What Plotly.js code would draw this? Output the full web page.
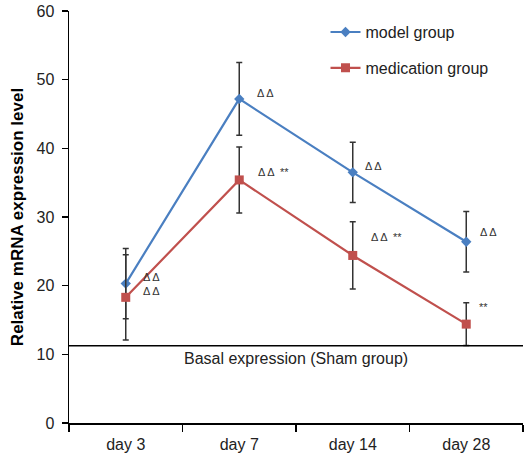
<!DOCTYPE html>
<html><head><meta charset="utf-8">
<script src="https://cdn.plot.ly/plotly-3.0.1.min.js"></script>
<style>body{margin:0;background:#fff}#c{width:526px;height:456px}</style>
</head><body><div id="c"></div>
<script>
const days = ['day 3','day 7','day 14','day 28'];
const modelVals = [20.3, 47.2, 36.5, 26.4];
const modelErr = [5.1, 5.3, 4.4, 4.4];
const medVals = [18.3, 35.4, 24.4, 14.4];
const medErr = [6.2, 4.8, 4.9, 3.1];
const basalLevel = 11.25;
const basalLabel = 'Basal expression (Sham group)';
const modelMarks = ['Δ Δ','Δ Δ','Δ Δ','Δ Δ'];
const medMarks = ['Δ Δ','Δ Δ  **','Δ Δ  **','**'];

const blue = '#4a7fc1', red = '#c0504d', errc = '#333333';
const traces = [
  {x: days, y: modelVals, name: 'model group', type: 'scatter', mode: 'lines+markers',
   line: {color: blue, width: 2.2}, marker: {symbol: 'diamond', size: 8, color: blue},
   error_y: {type: 'data', array: modelErr, visible: true, color: errc, thickness: 1.5, width: 3},
   legendgroup: 'a'},
  {x: days, y: medVals, name: 'medication group', type: 'scatter', mode: 'lines+markers',
   line: {color: red, width: 2.2}, marker: {symbol: 'square', size: 9, color: red},
   error_y: {type: 'data', array: medErr, visible: true, color: errc, thickness: 1.5, width: 3},
   legendgroup: 'b'}
];
const ann = [];
const mOff = [[26,7],[26,6],[21,6],[22,10]];
const dOff = [[26,6],[34,8],[34,18],[17,17]];
const af = {family: 'Arial, Liberation Sans', size: 11, color: '#333'};
days.forEach((d,i)=>{
  ann.push({x: d, y: modelVals[i], text: modelMarks[i], showarrow: false, xshift: mOff[i][0], yshift: mOff[i][1], font: af});
  ann.push({x: d, y: medVals[i], text: medMarks[i], showarrow: false, xshift: dOff[i][0], yshift: dOff[i][1], font: af});
});
ann.push({xref: 'paper', x: 0.5, y: basalLevel, yanchor: 'top', yshift: -2, text: basalLabel, showarrow: false,
  font: {family: 'Arial, Liberation Sans', size: 16, color: '#222'}});
const layout = {
  width: 526, height: 456,
  margin: {l: 69, r: 3, t: 11, b: 33},
  paper_bgcolor: '#fff', plot_bgcolor: '#fff',
  font: {family: 'Arial, Liberation Sans', color: '#222'},
  showlegend: true,
  legend: {x: 0.565, y: 0.99, xanchor: 'left', yanchor: 'top', tracegroupgap: 12, itemwidth: 30,
    font: {size: 16, color: '#222'}, bgcolor: 'rgba(0,0,0,0)'},
  xaxis: {type: 'category', tickson: 'boundaries', ticks: 'outside', ticklen: 7, tickwidth: 1.5, tickcolor: '#000',
    showline: true, linecolor: '#000', linewidth: 1.5, showgrid: false, zeroline: false, ticklabelstandoff: 6,
    tickfont: {size: 16, color: '#222'}, range: [-0.5, 3.5]},
  yaxis: {range: [0, 60], dtick: 10, ticks: 'outside', ticklen: 6, tickwidth: 1.5, tickcolor: '#000',
    showline: true, linecolor: '#000', linewidth: 1.5, showgrid: false, zeroline: false, ticklabelstandoff: 4,
    tickfont: {size: 16, color: '#222'},
    title: {text: '<b>Relative mRNA expression level</b>', font: {size: 17, color: '#000'}, standoff: 8}},
  shapes: [{type: 'line', xref: 'paper', x0: 0, x1: 1, y0: basalLevel, y1: basalLevel,
    line: {color: '#000', width: 1.5}}],
  annotations: ann
};
Plotly.newPlot('c', traces, layout, {displayModeBar: false, staticPlot: true});
</script></body></html>
